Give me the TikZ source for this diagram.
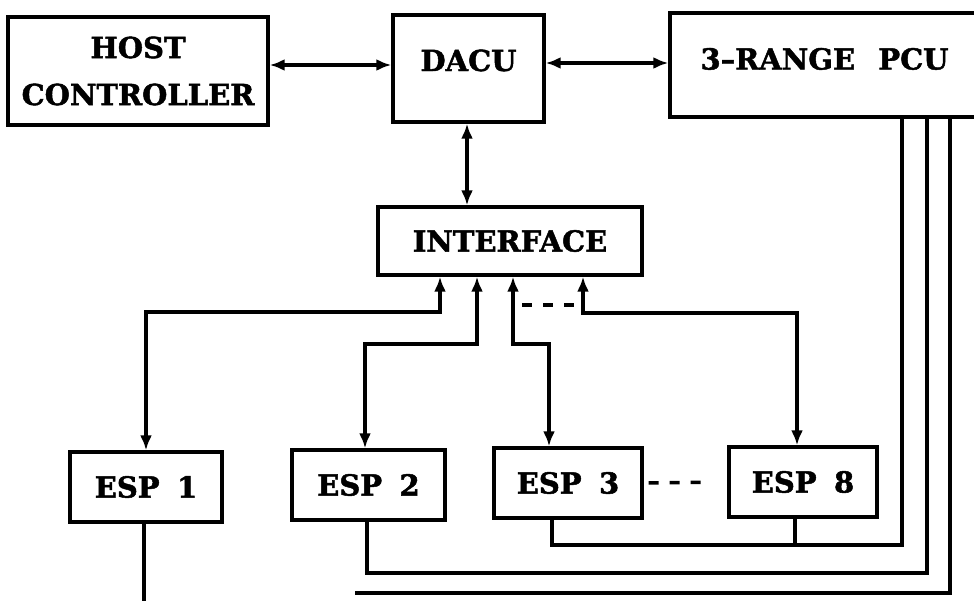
\documentclass[tikz,border=0pt]{standalone}
\usepackage{fontspec}
\setmainfont{DejaVu Serif}[BoldFeatures={FakeBold=1.6}]
\usetikzlibrary{arrows.meta}
\tikzset{
  blk/.style={draw, line width=3.4pt, rectangle, inner sep=0pt, align=center,
    font=\fontsize{29}{47}\selectfont\bfseries},
  conn/.style={line width=3.6pt},
  dbl/.style={conn, {Latex[length=15pt,width=12pt]}-{Latex[length=15pt,width=12pt]}},
  dashline/.style={conn, dash pattern=on 10pt off 11pt},
  bus/.style={line width=4.4pt, line join=miter}
}
\begin{document}
\begin{tikzpicture}[x=1pt,y=-1pt]
\useasboundingbox (0,0) rectangle (974,600);
\clip (0,0) rectangle (974,600);
% blocks
\node[blk, minimum width=260pt, minimum height=108pt] (host) at (138,71) {HOST\\CONTROLLER};
\node[blk, minimum width=151pt, minimum height=107pt, text height=15pt, text depth=10pt] (dacu) at (468.5,68.5) {DACU};
\node[blk, minimum width=309pt, minimum height=104pt, text height=18pt, text depth=9pt] (pcu) at (824.5,65) {3--RANGE\hspace{0.8em}PCU};
\node[blk, minimum width=264pt, minimum height=68pt] (iface) at (510,241) {INTERFACE};
\node[blk, minimum width=152pt, minimum height=70pt] (esp1) at (146,487) {ESP\hspace{0.6em}1};
\node[blk, minimum width=153pt, minimum height=70pt] (esp2) at (368.5,485) {ESP\hspace{0.6em}2};
\node[blk, minimum width=148pt, minimum height=70pt] (esp3) at (568,483) {ESP\hspace{0.6em}3};
\node[blk, minimum width=148pt, minimum height=70pt] (esp8) at (803,482) {ESP\hspace{0.6em}8};
% top connections
\draw[dbl] (host.east |- 0,65) -- (dacu.west |- 0,65);
\draw[dbl] (dacu.east |- 0,63) -- (pcu.west |- 0,63);
\draw[dbl] (dacu.south -| 467,0) -- (iface.north -| 467,0);
% interface to ESPs
\draw[dbl] (esp1.north) |- (440,312) -- (iface.south -| 440,0);
\draw[dbl] (esp2.north -| 365,0) |- (477,344) -- (iface.south -| 477,0);
\draw[dbl] (esp3.north -| 549,0) |- (513,344) -- (iface.south -| 513,0);
\draw[dbl] (esp8.north -| 797,0) |- (583,313) -- (iface.south -| 583,0);
\draw[dashline] (522,305) -- (575,305);
\draw[dashline, shorten <=5pt, shorten >=17pt] (esp3.east) -- (esp8.west);
% PCU lines
\coordinate (e1end) at (144,602);
\coordinate (l3start) at (355,593);
\draw[bus] (esp1.south -| 144,0) -- (e1end);
\draw[bus] (esp3.south -| 552,0) |- (902,545) -- (pcu.south -| 902,0);
\draw[bus] (esp8.south -| 795,0) -- (795,545);
\draw[bus] (esp2.south -| 367,0) |- (927,573) -- (pcu.south -| 927,0);
\draw[bus] (l3start) -- (950,593) -- (pcu.south -| 950,0);
\end{tikzpicture}
\end{document}
